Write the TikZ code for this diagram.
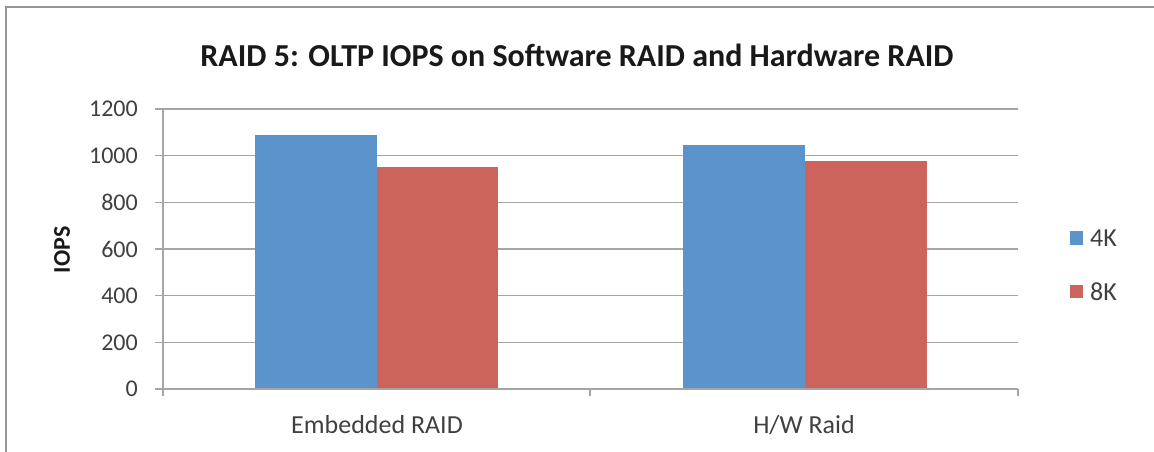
\documentclass[tikz,border=0pt]{standalone}
\usepackage{fontspec}
\setmainfont{Carlito}
\definecolor{barblue}{RGB}{91,147,203}
\definecolor{barred}{RGB}{205,100,92}
\definecolor{gridgray}{RGB}{165,165,165}
\definecolor{framegray}{RGB}{150,150,150}
\definecolor{txtgray}{RGB}{64,64,64}
\begin{document}
\begin{tikzpicture}[x=1pt,y=-1pt,
  grid/.style={draw=gridgray,line width=1.3pt},
  axisline/.style={draw=gridgray,line width=1.3pt},
  ticklbl/.style={font=\fontsize{24}{28}\selectfont,text=txtgray,anchor=east,inner sep=0pt},
  catlbl/.style={font=\fontsize{26}{30}\selectfont,text=txtgray,inner sep=0pt},
  bluebar/.style={fill=barblue},
  redbar/.style={fill=barred}]
\useasboundingbox (0,0) rectangle (1154,452);
\fill[white] (0,0) rectangle (1154,452);
% frame (top and left visible)
\draw[framegray,line width=1.3pt] (6,460) -- (6,7) -- (1160,7);
% title
\node[font=\fontsize{32}{36}\selectfont\bfseries,text=black!90,inner sep=0pt] (title) at (577,55) {RAID 5: OLTP IOPS on Software RAID and Hardware RAID};
% gridlines and y labels
\foreach \v/\n in {0/0,200/1,400/2,600/3,800/4,1000/5,1200/6}{
  \pgfmathsetmacro{\yy}{389-\v*0.2333}
  \draw[grid] (155,\yy) -- (1018,\yy);
  \node[ticklbl] (yl\n) at (138,\yy) {\v};
}
% axes
\draw[axisline] (163,109) -- (163,389);
\foreach \xx/\n in {163/0,590/1,1018/2}{
  \coordinate (xt\n) at (\xx,389);
  \draw[axisline] (xt\n) -- ++(0,7);
}
% bars
\fill[bluebar] (255,389) rectangle (377,134.7);
\fill[redbar]  (377,389) rectangle (498,167);
\fill[bluebar] (683,389) rectangle (805,145);
\fill[redbar]  (805,389) rectangle (927,161);
\draw[axisline] (155,389) -- (1018,389);
% y axis title
\node[font=\fontsize{24}{28}\selectfont\bfseries,text=black!90,rotate=90,inner sep=0pt] (ytitle) at (62,250) {IOPS};
% categories
\node[catlbl] (c1) at (377,425) {Embedded RAID};
\node[catlbl] (c2) at (804,425) {H/W Raid};
% legend
\fill[bluebar] (1070,231) rectangle (1083,245);
\node[catlbl,anchor=west] (l1) at (1090,238) {4K};
\fill[redbar] (1070,285) rectangle (1083,298);
\node[catlbl,anchor=west] (l2) at (1090,291.5) {8K};
\end{tikzpicture}
\end{document}
